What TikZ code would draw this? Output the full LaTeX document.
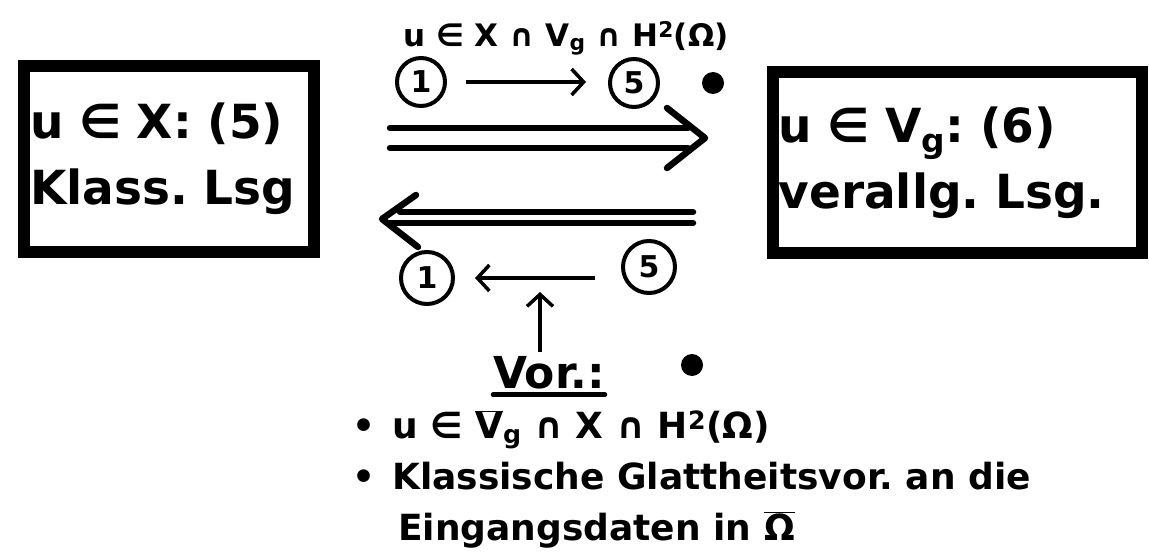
\documentclass[tikz,border=0pt]{standalone}
\usepackage{fontspec}
\setmainfont{DejaVu Sans}
\frenchspacing
\usetikzlibrary{arrows.meta, positioning, calc}
\tikzset{
    box/.style={rectangle, draw, line width=12pt, align=left, inner xsep=6pt,
        font=\bfseries\fontsize{47}{66}\selectfont},
    circnum/.style={circle, draw, line width=4pt, minimum size=48pt, inner sep=0pt,
        font=\bfseries\fontsize{30}{30}\selectfont},
    arrow/.style={-{Straight Barb[length=12pt, width=26pt, line width=3.5pt]}, line width=3.5pt},
    dblline/.style={line width=6.5pt, line cap=round},
    barb/.style={line width=6.5pt, line cap=round, line join=round},
    dot/.style={circle, fill, inner sep=0pt, minimum size=22pt},
    lbl/.style={inner sep=0pt, font=\bfseries\fontsize{31}{36}\selectfont}
}

\begin{document}
\begin{tikzpicture}[x=1pt, y=-1pt]

    \useasboundingbox (0,0) rectangle (1149,556);

    \node[box, minimum width=290pt, minimum height=186pt, text width=278pt] (klass) at (169,159)
        {u ∈ X: (5)\\Klass. Lsg};
    \node[box, minimum width=369pt, minimum height=181pt, text width=357pt] (verallg) at (957,163)
        {u ∈ V\textsubscript{g}: (6)\\verallg. Lsg.};

    \node[lbl] (cond) at (566,38) {u ∈ X ∩ V\textsubscript{g} ∩ H\textsuperscript{2}(Ω)};

    \node[circnum] (oneT) at (421,82) {1};
    \node[circnum] (fiveT) at (634,83) {5};
    \node[dot] (dotA) at (713,83) {};

    % double arrows
    \coordinate (ra1) at (390,128);
    \coordinate (ra2) at (688,128);
    \coordinate (rb1) at (390,148);
    \coordinate (rb2) at (688,148);
    \coordinate (rtip) at (705,138);
    \coordinate (la1) at (400,212);
    \coordinate (la2) at (693,212);
    \coordinate (lb1) at (390,223);
    \coordinate (lb2) at (693,223);
    \coordinate (ltip) at (382,219);

    \draw[dblline] (ra1) -- (ra2);
    \draw[dblline] (rb1) -- (rb2);
    \draw[barb] ($(rtip)+(-38,-30)$) -- (rtip) -- ($(rtip)+(-38,30)$);
    \draw[dblline] (la1) -- (la2);
    \draw[dblline] (lb1) -- (lb2);
    \draw[barb] ($(ltip)+(34,-24)$) -- (ltip) -- ($(ltip)+(36,28)$);

    \node[circnum, minimum size=52pt] (oneB) at (427,278) {1};
    \node[circnum, minimum size=52pt] (fiveB) at (649,267) {5};

    \node[lbl, font=\bfseries\fontsize{44}{44}\selectfont] (vor) at (549,373) {Vor.:};
    \coordinate (ptr) at (540,292);
    \node[dot] (dotB) at (692,365) {};

    \node[lbl, font=\bfseries\fontsize{36}{51}\selectfont, align=left, anchor=north west] (prereq) at (352,410)
        {\makebox[40pt][l]{•}u ∈ \(\overline{\mbox{V}}\)\textsubscript{g} ∩ X ∩ H\textsuperscript{2}(Ω)\\
         \makebox[40pt][l]{•}Klassische Glattheitsvor. an die\\
         \hspace*{46pt}Eingangsdaten in \(\overline{\mbox{Ω}}\)};

    \draw[arrow, shorten <=19pt, shorten >=22pt] (oneT) -- (fiveT.west |- oneT);
    \draw[arrow, shorten <=26pt, shorten >=20pt] (fiveB.west |- oneB) -- (oneB);
    \draw[arrow, shorten <=4pt] (vor.north -| ptr) -- (ptr);
    \draw[line width=4.5pt, line cap=round] ($(vor.base west)+(0,6)$) -- ($(vor.base east)+(0,6)$);

\end{tikzpicture}
\end{document}
